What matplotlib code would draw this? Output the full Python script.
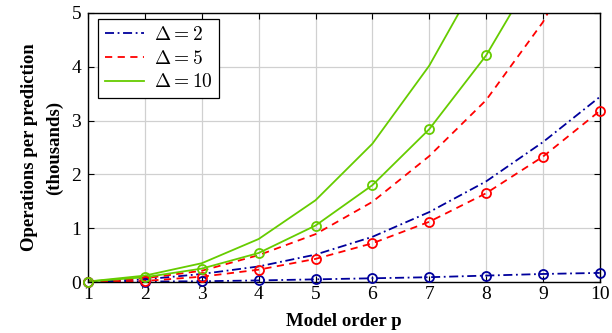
import numpy as np
import matplotlib
matplotlib.use("Agg")
import matplotlib.pyplot as plt

plt.rcParams['font.family'] = 'serif'
plt.rcParams['font.serif'] = ['Liberation Serif', 'DejaVu Serif']
plt.rcParams['mathtext.fontset'] = 'cm'

# model order
p = [1, 2, 3, 4, 5, 6, 7, 8, 9, 10]

# operations per prediction (thousands), upper curves (no markers)
ops_d2 = [0.01, 0.05, 0.15, 0.29, 0.51, 0.84, 1.30, 1.87, 2.60, 3.44]
ops_d5 = [0.01, 0.07, 0.21, 0.50, 0.89, 1.49, 2.34, 3.38, 4.83, 6.80]
ops_d10 = [0.01, 0.12, 0.35, 0.80, 1.52, 2.57, 4.02, 5.90, 8.30, 11.3]

# lower curves (circle markers)
ops_d2_m = [0.01, 0.01, 0.015, 0.03, 0.05, 0.07, 0.09, 0.12, 0.15, 0.17]
ops_d5_m = [0.01, 0.02, 0.10, 0.23, 0.43, 0.72, 1.12, 1.65, 2.33, 3.18]
ops_d10_m = [0.01, 0.09, 0.25, 0.54, 1.05, 1.80, 2.84, 4.21, 6.00, 8.20]

labels = [r'$\Delta = 2$', r'$\Delta = 5$', r'$\Delta = 10$']
colors = ['#00009c', '#ff0000', '#66cc00']
styles = [(0, (5, 2, 1, 2)), (0, (4, 3)), '-']

fig = plt.figure(figsize=(6.12, 3.33), dpi=100)
ax = fig.add_axes([0.144, 0.153, 0.836, 0.808])

uppers = [ops_d2, ops_d5, ops_d10]
lowers = [ops_d2_m, ops_d5_m, ops_d10_m]
handles = []
for up, lo, lab, c, ls in zip(uppers, lowers, labels, colors, styles):
    h, = ax.plot(p, up, color=c, linestyle=ls, linewidth=1.3, label=lab)
    handles.append(h)
    ax.plot(p, lo, color=c, linestyle=ls, linewidth=1.3)
    x = np.array(p)
    y = np.array(lo)
    keep = y <= 5
    ax.plot(x[keep], y[keep], linestyle='none', marker='o', markersize=6.5,
            markerfacecolor='none', markeredgecolor=c, markeredgewidth=1.3,
            clip_on=False, zorder=5)

ax.set_xlim(1, 10)
ax.set_ylim(0, 5)
ax.set_xticks(p)
ax.set_yticks([0, 1, 2, 3, 4, 5])
ax.grid(True, color='#d0d0d0', linewidth=0.9)
ax.set_axisbelow(True)
ax.tick_params(direction='in', top=True, right=True, labelsize=14, length=4)
ax.tick_params(axis='x', pad=3)
ax.tick_params(axis='y', pad=5)
for s in ax.spines.values():
    s.set_linewidth(1.0)

ax.set_xlabel('Model order p', fontsize=13.5, fontweight='bold', labelpad=7)
ax.set_ylabel('Operations per prediction\n(thousands)', fontsize=13.5,
              fontweight='bold', labelpad=6, linespacing=1.6)

leg = ax.legend(handles=handles, loc='upper left', fontsize=14, fancybox=False,
                edgecolor='black', framealpha=1, handlelength=2.0,
                borderpad=0.35, labelspacing=0.3, handletextpad=0.5,
                borderaxespad=0, bbox_to_anchor=(0.02, 0.978))
leg.get_frame().set_linewidth(0.9)

fig.savefig('out.png', dpi=100)
